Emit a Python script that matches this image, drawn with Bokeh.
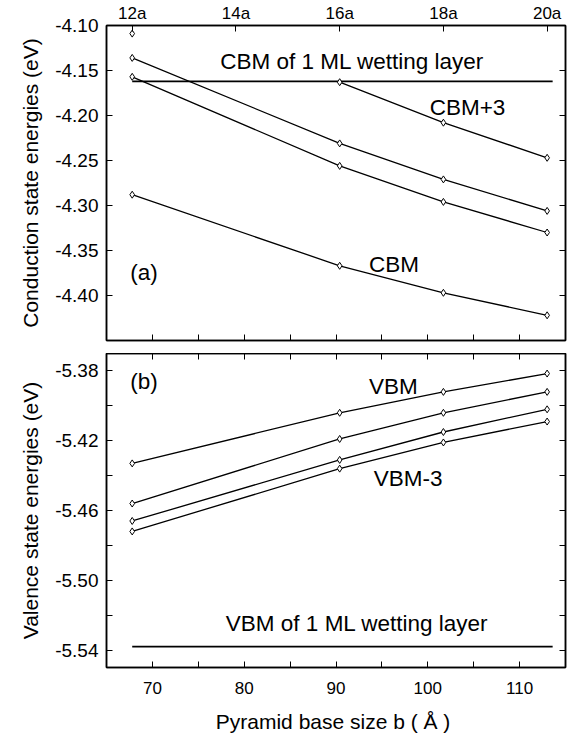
from bokeh.plotting import figure
from bokeh.models import Range1d, LinearAxis, FixedTicker, PrintfTickFormatter, Label
from bokeh.layouts import column
from bokeh.embed import file_html
from bokeh.resources import INLINE

FONT = "Liberation Sans"

# ---------------- data ----------------
# pyramid base size b (Angstrom) for 12a, 16a, 18a, 20a
base_b = [67.8, 90.4, 101.7, 113.0]
top_ticks_a = [12, 14, 16, 18, 20]
lattice_a = 5.65

# conduction states (eV)
cbm = [-4.288, -4.367, -4.397, -4.422]
cbm1 = [-4.157, -4.256, -4.296, -4.330]
cbm2 = [-4.136, -4.231, -4.271, -4.306]
cbm3 = [-4.109, -4.163, -4.208, -4.247]
cbm_wet = -4.162

# valence states (eV)
vbm = [-5.433, -5.404, -5.392, -5.3815]
vbm1 = [-5.456, -5.419, -5.404, -5.392]
vbm2 = [-5.466, -5.431, -5.415, -5.402]
vbm3 = [-5.472, -5.436, -5.421, -5.409]
vbm_wet = -5.538

wet_span = [67.8, 113.6]

x_major = [70, 80, 90, 100, 110]
x_minor = [75, 85, 95, 105]
yc_ticks = [-4.40, -4.35, -4.30, -4.25, -4.20, -4.15, -4.10]
yv_major = [-5.54, -5.50, -5.46, -5.42, -5.38]
yv_minor = [-5.52, -5.48, -5.44, -5.40]


def style_axis(ax, size="17px"):
    ax.axis_line_color = "black"
    ax.axis_line_width = 1.5
    ax.major_tick_in = 6
    ax.major_tick_out = 0
    ax.minor_tick_in = 6
    ax.minor_tick_out = 0
    ax.major_tick_line_color = "black"
    ax.minor_tick_line_color = "black"
    ax.major_tick_line_width = 1
    ax.minor_tick_line_width = 1
    ax.major_label_text_font = FONT
    ax.major_label_text_font_size = size
    ax.major_label_text_color = "black"
    ax.axis_label_text_font = FONT
    ax.axis_label_text_font_style = "normal"
    ax.axis_label_text_color = "black"


def tick_only_axis(ticks):
    # only (unlabelled) minor ticks, drawn inward
    ax = LinearAxis(ticker=FixedTicker(ticks=[], minor_ticks=ticks))
    style_axis(ax)
    ax.major_label_standoff = 0
    return ax


def make_fig(yr, fh, top, bottom):
    p = figure(frame_width=459, frame_height=fh,
               x_range=Range1d(65, 115), y_range=yr,
               x_axis_type=None, y_axis_type=None,
               toolbar_location=None, output_backend="svg",
               min_border_left=106, min_border_right=10,
               min_border_top=top, min_border_bottom=bottom,
               background_fill_color="white", border_fill_color="white")
    p.outline_line_color = "black"
    p.outline_line_width = 1.5
    p.grid.visible = False
    return p


def series(p, ys, draw_from=0):
    p.line(base_b[draw_from:], ys[draw_from:], line_color="black", line_width=1.3)
    p.scatter(base_b, ys, marker="diamond", size=7, line_color="black",
              fill_color="white", line_width=1)


def label(p, x, y, t, size="22.5px"):
    p.add_layout(Label(x=x, y=y, text=t, text_font=FONT, text_font_size=size,
                       text_baseline="middle", text_align="left", text_color="black"))


# ---------------- top panel (conduction) ----------------
p1 = make_fig(Range1d(-4.45, -4.10), 315, 24, 13)
p1.extra_x_ranges = {"a": Range1d(65 / lattice_a, 115 / lattice_a)}

ax_top = LinearAxis(x_range_name="a", ticker=FixedTicker(ticks=top_ticks_a),
                    formatter=PrintfTickFormatter(format="%da"))
style_axis(ax_top, "17px")
ax_top.major_label_standoff = 3
p1.add_layout(ax_top, "above")

p1.add_layout(tick_only_axis(x_major + x_minor), "below")

ax_l1 = LinearAxis(ticker=FixedTicker(ticks=yc_ticks),
                   formatter=PrintfTickFormatter(format="%.2f"),
                   axis_label="Conduction state energies (eV)")
style_axis(ax_l1, "19px")
ax_l1.major_label_standoff = 8
ax_l1.axis_label_text_font_size = "21px"
ax_l1.axis_label_standoff = 10
p1.add_layout(ax_l1, "left")

p1.add_layout(tick_only_axis(yc_ticks), "right")

p1.line(wet_span, [cbm_wet, cbm_wet], line_color="black", line_width=1.8)
series(p1, cbm)
series(p1, cbm1)
series(p1, cbm2)
series(p1, cbm3, draw_from=1)

label(p1, 77.4, -4.140, "CBM of 1 ML wetting layer")
label(p1, 100.2, -4.191, "CBM+3")
label(p1, 93.6, -4.365, "CBM")
label(p1, 67.6, -4.374, "(a)")

# ---------------- bottom panel (valence) ----------------
p2 = make_fig(Range1d(-5.55, -5.37), 314, 0, 68)

p2.add_layout(tick_only_axis(x_major + x_minor), "above")

ax_b2 = LinearAxis(ticker=FixedTicker(ticks=x_major, minor_ticks=x_minor),
                   axis_label="Pyramid base size b  ( Å )")
style_axis(ax_b2, "17px")
ax_b2.major_label_standoff = 14
ax_b2.axis_label_text_font_size = "21px"
ax_b2.axis_label_standoff = 13
p2.add_layout(ax_b2, "below")

ax_l2 = LinearAxis(ticker=FixedTicker(ticks=yv_major, minor_ticks=yv_minor),
                   formatter=PrintfTickFormatter(format="%.2f"),
                   axis_label="Valence state energies (eV)")
style_axis(ax_l2, "19px")
ax_l2.major_label_standoff = 8
ax_l2.axis_label_text_font_size = "21px"
ax_l2.axis_label_standoff = 10
p2.add_layout(ax_l2, "left")

p2.add_layout(tick_only_axis(yv_major + yv_minor), "right")

p2.line(wet_span, [vbm_wet, vbm_wet], line_color="black", line_width=1.8)
series(p2, vbm)
series(p2, vbm1)
series(p2, vbm2)
series(p2, vbm3)

label(p2, 67.6, -5.3863, "(b)")
label(p2, 93.6, -5.3892, "VBM")
label(p2, 94.1, -5.4417, "VBM-3")
label(p2, 78.0, -5.5247, "VBM of 1 ML wetting layer")

layout = column(p1, p2, spacing=0)
open("out.html", "w").write(file_html(layout, INLINE))
